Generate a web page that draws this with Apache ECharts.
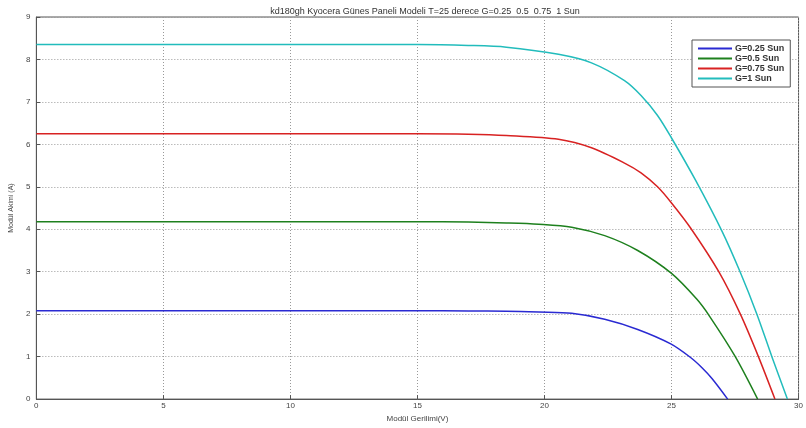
<!DOCTYPE HTML>
<html>
<head>
<meta http-equiv="Content-Type" content="text/html; charset=utf-8">
<title>kd180gh Kyocera</title>
<script type="text/javascript" src="https://cdn.jsdelivr.net/npm/echarts@6/dist/echarts.min.js"></script>
<style>
  body { margin: 0; background: #fff; }
  #chart { width: 806px; height: 428px; }
</style>
</head>
<body>
<div id="chart"></div>
<script type="text/javascript">
  // voltage points (V) and current (A) per irradiance level
  var g025_v = [0, 5, 10, 15, 17, 18.5, 19.77, 21.07, 22.37, 23.67, 24.97, 25.75, 26.2, 26.6, 27.21];
  var g025_i = [2.08, 2.08, 2.08, 2.08, 2.075, 2.07, 2.05, 2.02, 1.88, 1.64, 1.3, 0.98, 0.74, 0.48, 0];

  var g05_v = [0, 5, 10, 15, 17, 18.5, 19.77, 21.07, 22.37, 23.67, 25.0, 26.0, 26.5, 27.51, 28.39];
  var g05_i = [4.18, 4.18, 4.18, 4.18, 4.17, 4.15, 4.12, 4.05, 3.85, 3.5, 2.96, 2.35, 1.95, 1.0, 0];

  var g075_v = [0, 5, 10, 15, 17, 18.5, 20.55, 21.85, 23.15, 23.8, 24.45, 25.0, 25.75, 26.86, 27.71, 28.42, 29.07];
  var g075_i = [6.25, 6.25, 6.25, 6.25, 6.24, 6.21, 6.12, 5.92, 5.56, 5.33, 5.0, 4.62, 4.03, 3.0, 2.0, 1.0, 0];

  var g1_v = [0, 5, 10, 15, 17, 18.5, 20.55, 21.85, 23.15, 23.8, 24.45, 25.0, 25.95, 26.99, 27.71, 28.36, 28.95, 29.56];
  var g1_i = [8.35, 8.35, 8.35, 8.35, 8.33, 8.29, 8.12, 7.92, 7.5, 7.15, 6.68, 6.15, 5.15, 3.95, 2.98, 2.0, 1.0, 0];

  var names = ['G=0.25 Sun', 'G=0.5 Sun', 'G=0.75 Sun', 'G=1 Sun'];
  var colors = ['#2a2ad2', '#1e801e', '#d82222', '#22bcbc'];

  function pairs(v, i) {
    var out = [];
    for (var k = 0; k < v.length; k++) out.push([v[k], i[k]]);
    return out;
  }
  var allData = [pairs(g025_v, g025_i), pairs(g05_v, g05_i), pairs(g075_v, g075_i), pairs(g1_v, g1_i)];

  var series = [];
  for (var s = 0; s < names.length; s++) {
    series.push({
      name: names[s],
      type: 'line',
      smooth: 0.3,
      symbol: 'none',
      data: allData[s],
      lineStyle: { color: colors[s], width: 1.5 },
      itemStyle: { color: colors[s] }
    });
  }

  var chart = echarts.init(document.getElementById('chart'));
  chart.setOption({
    animation: false,
    backgroundColor: '#ffffff',
    title: {
      text: 'kd180gh Kyocera Günes Paneli Modeli T=25 derece G=0.25  0.5  0.75  1 Sun',
      left: 420, top: 2, textAlign: 'center',
      textStyle: { fontSize: 9, fontWeight: 'normal', color: '#333', fontFamily: 'Liberation Sans' }
    },
    legend: {
      orient: 'vertical',
      left: 692, top: 40,
      padding: [4, 6, 4, 6],
      itemGap: 1,
      itemWidth: 34, itemHeight: 2,
      icon: 'rect',
      borderColor: '#555', borderWidth: 1,
      backgroundColor: '#fff',
      textStyle: { fontSize: 9, fontWeight: 'bold', color: '#333', fontFamily: 'Liberation Sans', padding: [0, 0, 0, -2] },
      data: names
    },
    grid: {
      left: 34, right: 4, top: 17, bottom: 24,
      show: true, borderColor: '#555', borderWidth: 1
    },
    xAxis: {
      type: 'value', min: 0, max: 30, interval: 5,
      name: 'Modül Gerilimi(V)', nameLocation: 'middle', nameGap: 12,
      nameTextStyle: { fontSize: 8, color: '#444', fontFamily: 'Liberation Sans' },
      axisLine: { show: true, lineStyle: { color: '#555' } },
      axisTick: { show: true, inside: true, length: 4, lineStyle: { color: '#555' } },
      axisLabel: { fontSize: 8, color: '#444', margin: 3, fontFamily: 'Liberation Sans' },
      splitLine: { show: true, lineStyle: { color: '#999', type: [1, 2], width: 1 } }
    },
    yAxis: {
      type: 'value', min: 0, max: 9, interval: 1,
      name: 'Modül Akimi (A)', nameLocation: 'middle', nameGap: 20, nameRotate: 90,
      nameTextStyle: { fontSize: 7, color: '#444', fontFamily: 'Liberation Sans' },
      axisLine: { show: true, lineStyle: { color: '#555' } },
      axisTick: { show: true, inside: true, length: 4, lineStyle: { color: '#555' } },
      axisLabel: { fontSize: 8, color: '#444', margin: 6, fontFamily: 'Liberation Sans' },
      splitLine: { show: true, lineStyle: { color: '#999', type: [1, 2], width: 1 } }
    },
    series: series
  });
</script>
</body>
</html>
